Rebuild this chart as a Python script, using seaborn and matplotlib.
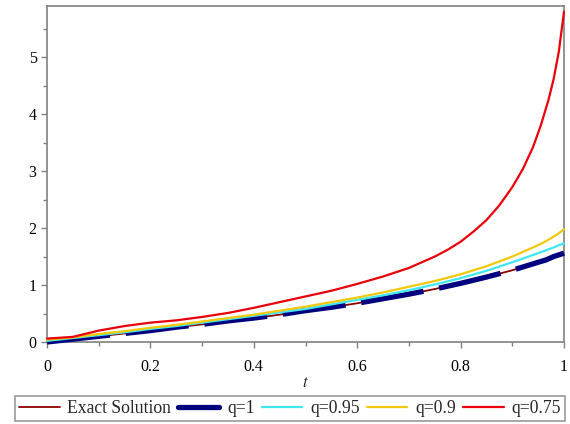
import numpy as np
import pandas as pd
import matplotlib
matplotlib.use("Agg")
import matplotlib.pyplot as plt
import seaborn as sns
from matplotlib.ticker import MultipleLocator

t = [0.0, 0.05, 0.1, 0.15, 0.2, 0.25, 0.3, 0.35, 0.4, 0.45, 0.5, 0.55, 0.6, 0.65,
     0.7, 0.75, 0.8, 0.85, 0.9, 0.925, 0.95, 0.965, 0.98, 0.99, 1.0]
exact = [0.0, 0.05, 0.10, 0.15, 0.20, 0.26, 0.31, 0.37, 0.42, 0.48, 0.55, 0.61, 0.68, 0.76,
         0.84, 0.93, 1.03, 1.14, 1.26, 1.33, 1.40, 1.44, 1.50, 1.53, 1.56]
q1 = list(exact)
q095 = [0.02, 0.07, 0.12, 0.17, 0.23, 0.28, 0.34, 0.40, 0.46, 0.52, 0.58, 0.66, 0.74, 0.82,
        0.91, 1.01, 1.12, 1.25, 1.40, 1.48, 1.56, 1.61, 1.66, 1.70, 1.73]
q09 = [0.04, 0.08, 0.14, 0.19, 0.25, 0.30, 0.36, 0.42, 0.48, 0.55, 0.62, 0.70, 0.78, 0.87,
       0.97, 1.07, 1.19, 1.33, 1.50, 1.60, 1.70, 1.77, 1.85, 1.91, 1.98]

t_red = [0.0, 0.05, 0.1, 0.15, 0.2, 0.25, 0.3, 0.35, 0.4, 0.45, 0.5, 0.55, 0.6, 0.65,
         0.7, 0.75, 0.775, 0.8, 0.825, 0.85, 0.875, 0.9, 0.92, 0.94, 0.955, 0.97, 0.98,
         0.99, 1.0]
q075 = [0.06, 0.09, 0.20, 0.28, 0.34, 0.38, 0.44, 0.51, 0.60, 0.70, 0.80, 0.90, 1.02, 1.15,
        1.30, 1.50, 1.62, 1.76, 1.94, 2.14, 2.40, 2.72, 3.03, 3.42, 3.80, 4.25, 4.62,
        5.10, 5.80]

labels = ["Exact Solution", "q=1", "q=0.95", "q=0.9", "q=0.75"]
xticks = [0, 0.2, 0.4, 0.6, 0.8, 1]
yticks = [0, 1, 2, 3, 4, 5]

sns.set_theme(style="white")
plt.rcParams['font.family'] = ['Liberation Serif', 'DejaVu Serif']
plt.rcParams['mathtext.fontset'] = 'stix'

fig = plt.figure(figsize=(5.7, 4.24), dpi=100)
ax = fig.add_axes([47/570, (424-342)/424, 517/570, 336/424])

df = pd.DataFrame({"t": t, "exact": exact, "q1": q1, "q095": q095, "q09": q09})
dfr = pd.DataFrame({"t": t_red, "q075": q075})

frame_col = "#808080"
sns.lineplot(data=df, x="t", y="exact", ax=ax, color="#8B0000", lw=1.3, label=labels[0], zorder=2)
sns.lineplot(data=df, x="t", y="q1", ax=ax, color="#00007F", lw=3.8, label=labels[1], zorder=3)
sns.lineplot(data=df, x="t", y="q095", ax=ax, color="#3FE8F0", lw=1.6, label=labels[2], zorder=4)
sns.lineplot(data=df, x="t", y="q09", ax=ax, color="#F2C80C", lw=1.6, label=labels[3], zorder=5)
sns.lineplot(data=dfr, x="t", y="q075", ax=ax, color="#E8000B", lw=1.6, label=labels[4], zorder=6)

navy = ax.get_lines()[1]
navy.set_dashes((12.0, 3.0))
navy.set_dash_capstyle("butt")

ax.set_xlim(0, 1.0)
ax.set_ylim(0, 5.9)
for ln in ax.get_lines():
    ln.set_clip_on(False)
    ln.set_solid_joinstyle("round")

ax.set_xticks(xticks)
ax.set_xticklabels([f"{v:g}" for v in xticks])
ax.set_yticks(yticks)
ax.xaxis.set_minor_locator(MultipleLocator(0.1))
ax.yaxis.set_minor_locator(MultipleLocator(0.5))
ax.tick_params(which="both", direction="out", color=frame_col, labelsize=11.5,
               labelcolor="black", bottom=True, left=True)
ax.tick_params(which="major", length=4, width=1)
ax.tick_params(which="minor", length=3, width=1)
ax.tick_params(axis="x", pad=8)
for s in ax.spines.values():
    s.set_color(frame_col)
    s.set_linewidth(1.2)
    s.set_visible(True)

ax.set_xlabel("$t$", fontsize=12, labelpad=0)
ax.set_ylabel("")
ax.grid(False)

leg = ax.legend(loc="center", bbox_to_anchor=(290/570, (424-408.5)/424),
                bbox_transform=fig.transFigure, ncol=5, frameon=True, fancybox=False,
                edgecolor=frame_col, fontsize=12.7, handlelength=2.3, handletextpad=0.45,
                columnspacing=0.4, borderpad=0.2, borderaxespad=0)
leg.get_frame().set_linewidth(1.2)
for h in leg.get_lines():
    h.set_linestyle("-")

fig.savefig("out.png", dpi=100)
